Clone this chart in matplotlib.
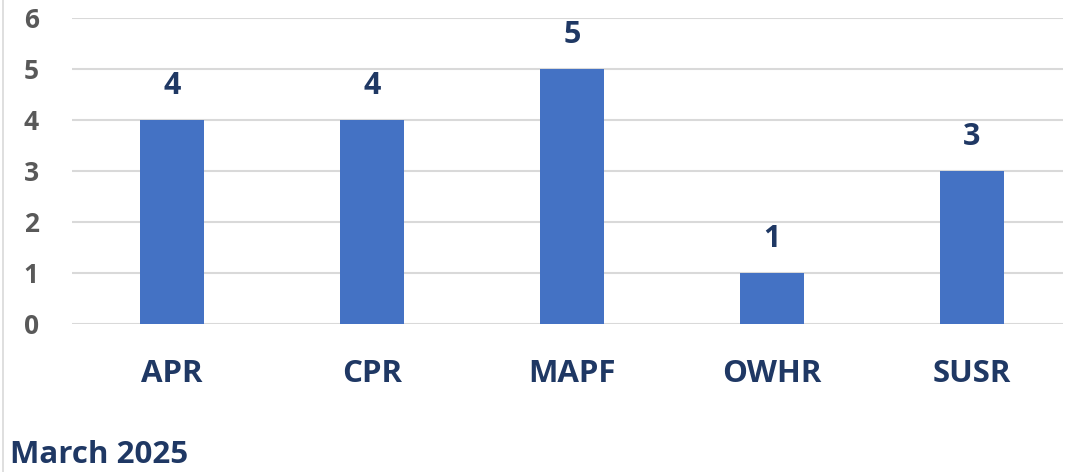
import matplotlib.pyplot as plt
from matplotlib.lines import Line2D

categories = ['APR', 'CPR', 'MAPF', 'OWHR', 'SUSR']
counts = [4, 4, 5, 1, 3]
y_ticks = [0, 1, 2, 3, 4, 5, 6]
footer_text = 'March 2025'

bar_color = '#4472C4'
navy = '#1F3864'
grey = '#595959'

plt.rcParams['font.family'] = ['Open Sans', 'DejaVu Sans']

fig = plt.figure(figsize=(10.81, 4.72), dpi=100)
ax = fig.add_axes([0.0666, 0.3136, 0.9167, 0.6483])

x = list(range(len(categories)))
bars = ax.bar(x, counts, width=0.32, color=bar_color, zorder=3)

# value labels above each bar
for xi, v in zip(x, counts):
    ax.annotate(str(v), (xi, v), xytext=(0, 14), textcoords='offset points',
                ha='center', va='bottom', fontsize=22, fontweight='bold', color=navy)

ax.set_xlim(-0.5, len(categories) - 0.545)
ax.set_ylim(0, 6)
ax.set_yticks(y_ticks)
ax.set_xticks(x)
ax.set_xticklabels(categories)

ax.grid(axis='y', color='#D9D9D9', linewidth=1.5, zorder=0)
for s in ax.spines.values():
    s.set_visible(False)

ax.tick_params(axis='y', length=0, pad=24, labelsize=19, labelcolor=grey)
ax.tick_params(axis='x', length=0, pad=25, labelsize=22.5, labelcolor=navy)
for lbl in ax.get_yticklabels() + ax.get_xticklabels():
    lbl.set_fontweight('bold')

fig.text(0.009, 0.035, footer_text, fontsize=22.5, fontweight='bold', color=navy,
         ha='left', va='center')

# thin frame line on the left edge
fig.add_artist(Line2D([0.003, 0.003], [0, 1], transform=fig.transFigure,
                      color='#D9D9D9', linewidth=1.2))

fig.savefig('out.png', dpi=100)
